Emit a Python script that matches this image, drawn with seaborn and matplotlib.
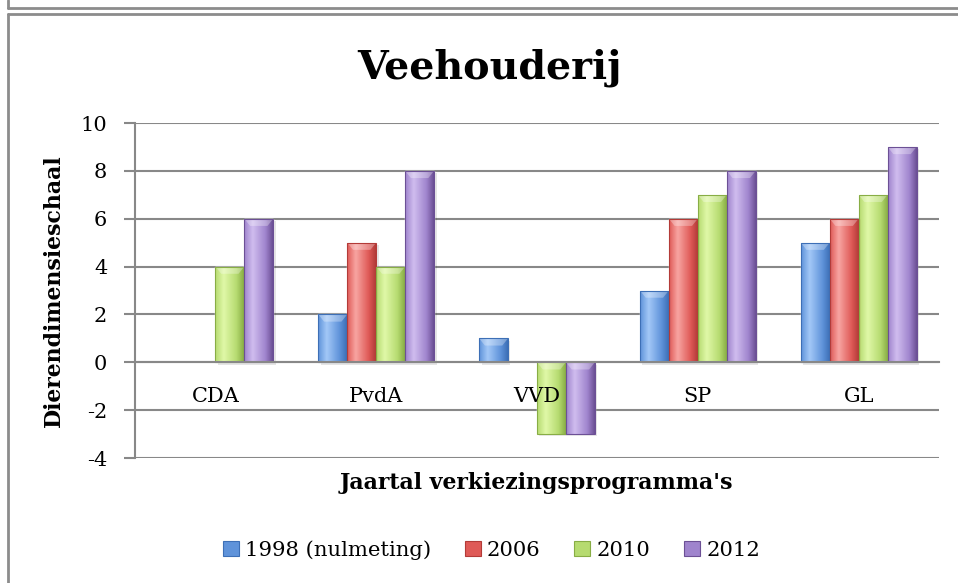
import numpy as np
import pandas as pd
import matplotlib
matplotlib.use("Agg")
import matplotlib.pyplot as plt
import seaborn as sns
from matplotlib.colors import LinearSegmentedColormap
from matplotlib.patches import Patch, Rectangle, Polygon
from matplotlib.lines import Line2D

# data
partijen = ["CDA", "PvdA", "VVD", "SP", "GL"]
jaren = ["1998 (nulmeting)", "2006", "2010", "2012"]
score_1998 = [0, 2, 1, 3, 5]
score_2006 = [0, 5, 0, 6, 6]
score_2010 = [4, 4, -3, 7, 7]
score_2012 = [6, 8, -3, 8, 9]

# (dark, light, base) per series, excel-like gradient
kleuren = [
    ("#3d6fb6", "#a3c8f7", "#5f93da"),
    ("#b33b38", "#f8a5a2", "#df5a57"),
    ("#88ad45", "#e0f8a8", "#b6db70"),
    ("#6c5095", "#d0bdef", "#9f84cd"),
]

df = pd.DataFrame({
    "partij": partijen * 4,
    "jaar": [j for j in jaren for _ in partijen],
    "score": score_1998 + score_2006 + score_2010 + score_2012,
})

sns.set_style("white")
plt.rcParams["font.family"] = ["DejaVu Serif"]
plt.rcParams["text.color"] = "black"
plt.rcParams["axes.labelcolor"] = "black"
plt.rcParams["xtick.labelcolor"] = "black"
plt.rcParams["ytick.labelcolor"] = "black"
plt.rcParams["axes.unicode_minus"] = False

fig = plt.figure(figsize=(9.58, 5.83), dpi=100)
ax = fig.add_axes([0.1409, 0.2144, 0.8393, 0.5746])

sns.barplot(data=df, x="partij", y="score", hue="jaar", hue_order=jaren,
            palette=[k[2] for k in kleuren], width=0.72, gap=0,
            saturation=1, ax=ax, legend=False, zorder=3)

# gradient fill on every bar
grad = np.linspace(0, 1, 64).reshape(1, -1)
for cont, (donker, licht, basis) in zip(ax.containers, kleuren):
    cmap = LinearSegmentedColormap.from_list(
        "g", [(0, basis), (0.3, licht), (0.75, basis), (1, donker)])
    for bar in cont:
        h = bar.get_height()
        if h == 0:
            continue
        x0, y0, w = bar.get_x(), bar.get_y(), bar.get_width()
        top = max(y0, y0 + h)
        # soft shadow
        ax.add_patch(Rectangle((x0 + 0.015, min(y0, y0 + h) - 0.1), w, abs(h),
                               color="#000000", alpha=0.1, lw=0, zorder=2))
        im = ax.imshow(grad, extent=[x0, x0 + w, y0, y0 + h], aspect="auto",
                       cmap=cmap, zorder=3.5, interpolation="bicubic")
        im.set_clip_path(bar)
        # bevel at the top
        ax.add_patch(Polygon([(x0, top), (x0 + w, top),
                              (x0 + 0.8 * w, top - 0.3),
                              (x0 + 0.2 * w, top - 0.3)],
                             closed=True, fc="white", alpha=0.3, lw=0,
                             zorder=3.55))
        ax.add_patch(Rectangle((x0, y0), w, h, fill=False, ec=donker,
                               lw=0.8, zorder=3.6))

ax.set_xlim(-0.5, 4.5)
ax.set_ylim(-4, 10)
ax.set_yticks(range(-4, 11, 2))
ax.set_aspect("auto")

grijs = "#888888"
ax.grid(axis="y", color=grijs, lw=1.5)
ax.yaxis.set_zorder(0.5)
ax.xaxis.set_zorder(5)
for s in ["top", "right"]:
    ax.spines[s].set_visible(False)
ax.spines["left"].set_color(grijs)
ax.spines["left"].set_linewidth(1.5)
ax.spines["bottom"].set_position(("data", 0))
ax.spines["bottom"].set_color(grijs)
ax.spines["bottom"].set_linewidth(1.5)
ax.spines["bottom"].set_zorder(4)

ax.set_xticks(np.arange(-0.5, 5, 1), minor=True)
ax.tick_params(axis="x", which="major", length=0, pad=18, labelsize=15)
ax.tick_params(axis="x", which="minor", length=6, width=1.5, color=grijs,
               direction="out")
ax.tick_params(axis="y", length=8, width=1.5, color=grijs, pad=12,
               labelsize=15, left=True)

ax.set_xlabel("")
ax.set_ylabel("Dierendimensieschaal", fontsize=15.8, fontweight="bold",
              labelpad=11)
fig.text(0.56, 1 - 483 / 583, "Jaartal verkiezingsprogramma's",
         ha="center", va="center", fontsize=15.8, fontweight="bold")
fig.text(0.511, 1 - 68 / 583, "Veehouderij", ha="center", va="center",
         fontsize=28.5, fontweight="bold")

handles = [Patch(facecolor=k[2], edgecolor=k[0], lw=0.8) for k in kleuren]
fig.legend(handles, jaren, loc="center", bbox_to_anchor=(0.513, 1 - 550 / 583),
           ncol=4, frameon=False, fontsize=15.2, handlelength=0.75,
           handleheight=0.75, handletextpad=0.3, columnspacing=1.6)

# frame lines of the surrounding boxes
lijn = dict(color="#8c8c8c", lw=2, transform=fig.transFigure)
fig.add_artist(Line2D([8 / 958, 1], [1 - 8 / 583, 1 - 8 / 583], **lijn))
fig.add_artist(Line2D([8 / 958, 8 / 958], [1, 1 - 8 / 583], **lijn))
fig.add_artist(Line2D([8 / 958, 1], [1 - 14 / 583, 1 - 14 / 583], **lijn))
fig.add_artist(Line2D([8 / 958, 8 / 958], [0, 1 - 14 / 583], **lijn))

fig.savefig("out.png", dpi=100)
